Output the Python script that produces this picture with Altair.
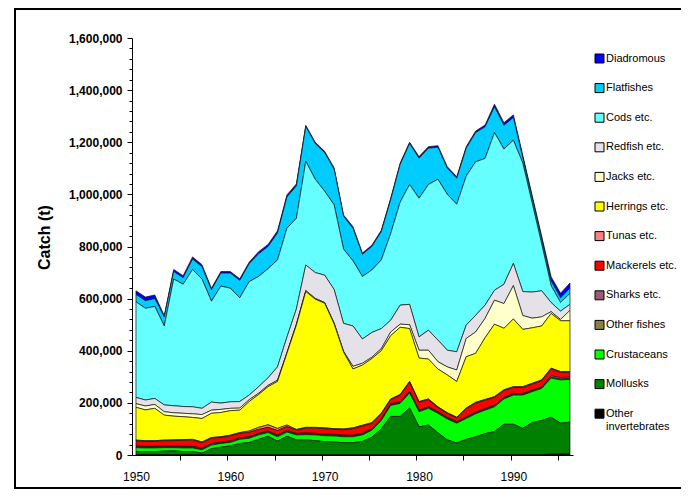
import altair as alt
import pandas as pd

years = list(range(1950, 1997))

series = ["Diadromous", "Flatfishes", "Cods etc.", "Redfish etc.", "Jacks etc.",
          "Herrings etc.", "Tunas etc.", "Mackerels etc.", "Sharks etc.",
          "Other fishes", "Crustaceans", "Mollusks", "Other invertebrates"]

colors = ["#0000FF", "#00CCFF", "#66FFFF", "#E4E1E8", "#FFFFCC",
          "#FFFF00", "#FF8080", "#FF0000", "#9B5B78",
          "#8A8040", "#00FF00", "#008000", "#000000"]

# values in thousand tonnes, 1950..1996
diadromous = [14, 14, 14, 5, 8, 8, 8, 8, 6, 6,
              6, 6, 6, 8, 8, 8, 8, 8, 5, 5,
              5, 5, 5, 6, 5, 5, 5, 5, 5, 5,
              6, 6, 6, 6, 6, 6, 6, 7, 10, 10,
              10, 10, 10, 12, 16, 18, 20]
flatfishes = [28, 29, 30, 35, 29, 25, 40, 47, 44, 50,
              58, 67, 69, 87, 85, 104, 120, 124, 133, 137,
              148, 137, 126, 125, 85, 90, 109, 130, 145, 157,
              154, 139, 123, 100, 100, 107, 112, 121, 99, 91,
              87, 20, 20, 18, 18, 18, 20]
cods = [367, 352, 353, 303, 486, 469, 527, 496, 387, 449,
        436, 398, 435, 423, 419, 410, 418, 348, 398, 358,
        322, 325, 285, 250, 240, 240, 263, 333, 395, 460,
        532, 559, 617, 598, 566, 572, 589, 563, 605, 519,
        473, 493, 340, 180, 65, 33, 42]
redfish = [24, 23, 23, 26, 27, 26, 27, 24, 31, 24,
           25, 25, 18, 25, 29, 51, 59, 58, 98, 99,
           105, 129, 107, 155, 93, 95, 77, 45, 73, 78,
           51, 77, 83, 64, 70, 51, 64, 51, 38, 74,
           85, 92, 100, 100, 35, 32, 23]
jacks = [14, 15, 15, 13, 13, 13, 14, 15, 12, 12,
         9, 8, 7, 5, 5, 5, 3, 4, 4, 3,
         3, 3, 3, 10, 7, 5, 8, 14, 12, 15,
         30, 34, 28, 31, 44, 70, 82, 74, 92, 95,
         128, 53, 37, 35, 7, 5, 40]
herrings = [126, 118, 124, 96, 91, 88, 84, 90, 93, 93,
            94, 86, 113, 126, 146, 180, 275, 400, 521, 492,
            478, 402, 295, 226, 231, 246, 240, 243, 258, 203,
            167, 153, 145, 145, 137, 197, 188, 237, 278, 236,
            260, 220, 213, 207, 210, 195, 195]
tunas = [3, 3, 3, 3, 3, 3, 3, 3, 3, 3,
         3, 3, 5, 8, 10, 8, 6, 3, 3, 3,
         3, 3, 3, 3, 3, 3, 3, 3, 3, 3,
         3, 3, 3, 3, 3, 3, 3, 3, 3, 3,
         3, 3, 3, 3, 3, 3, 3]
mackerels = [20, 19, 19, 20, 21, 23, 24, 21, 20, 17,
             19, 17, 17, 15, 14, 18, 15, 12, 19, 20,
             21, 19, 21, 25, 28, 20, 19, 16, 25, 35,
             30, 27, 16, 15, 14, 31, 35, 32, 30, 26,
             23, 23, 23, 24, 26, 20, 18]
sharks = [3, 3, 3, 3, 3, 3, 3, 3, 3, 3,
          3, 3, 3, 3, 3, 3, 3, 3, 3, 3,
          3, 3, 3, 3, 3, 3, 3, 3, 3, 3,
          3, 3, 3, 3, 3, 3, 3, 3, 3, 3,
          3, 3, 3, 3, 6, 6, 6]
other_fishes = [3, 3, 3, 3, 3, 3, 3, 3, 3, 3,
                3, 3, 3, 3, 3, 3, 3, 3, 3, 3,
                3, 3, 3, 3, 3, 3, 3, 3, 3, 3,
                3, 3, 3, 3, 3, 3, 3, 3, 3, 3,
                3, 3, 3, 3, 3, 3, 3]
crustaceans = [15, 14, 14, 13, 12, 14, 14, 13, 14, 14,
               13, 16, 16, 17, 14, 17, 16, 19, 20, 22,
               23, 23, 23, 23, 25, 27, 32, 42, 50, 58,
               58, 64, 75, 80, 76, 80, 88, 90, 95, 97,
               112, 128, 118, 123, 150, 166, 164]
mollusks = [12, 12, 12, 14, 15, 12, 12, 6, 23, 29,
            34, 43, 47, 59, 71, 52, 71, 57, 57, 54,
            50, 49, 46, 46, 51, 67, 99, 147, 147, 179,
            107, 114, 84, 57, 45, 59, 69, 81, 89, 117,
            117, 101, 124, 131, 141, 118, 122]
other_invertebrates = [1, 1, 1, 1, 1, 1, 1, 1, 1, 1,
                       1, 1, 1, 1, 1, 1, 1, 1, 1, 1,
                       1, 1, 1, 1, 1, 1, 1, 1, 1, 1,
                       1, 1, 1, 1, 1, 1, 1, 1, 1, 1,
                       1, 1, 1, 1, 4, 4, 4]

values = [diadromous, flatfishes, cods, redfish, jacks, herrings, tunas,
          mackerels, sharks, other_fishes, crustaceans, mollusks, other_invertebrates]

rows = []
n = len(series)
for i, (name, vals) in enumerate(zip(series, values)):
    for yr, v in zip(years, vals):
        rows.append({"year": yr, "group": name, "catch": v * 1000, "order": n - 1 - i})
df = pd.DataFrame(rows)

decades = [1950, 1960, 1970, 1980, 1990]
xticks = [1954.7, 1959.7, 1964.7, 1969.7, 1974.7, 1979.7, 1984.7, 1989.7, 1994.7]
xvals = sorted(decades + xticks)
yvals = list(range(0, 1600001, 40000))

FONT = "Liberation Sans"

areas = alt.Chart(df).mark_area(stroke="#111111", strokeWidth=0.7, interpolate="linear").encode(
    x=alt.X("year:Q",
            scale=alt.Scale(domain=[1949.58, 1996.32], nice=False, zero=False),
            axis=alt.Axis(values=xvals, format="d",
                          labelExpr="datum.value % 10 === 0 ? datum.label : ''",
                          tickSize={"condition": {"test": "datum.value % 10 === 0", "value": 0}, "value": 5},
                          labelPadding=16, labelOverlap=False, labelFlush=False,
                          labelFont=FONT, labelFontSize=12, labelColor="black",
                          domainColor="black", tickColor="black", grid=False),
            title=None),
    y=alt.Y("catch:Q", stack="zero",
            scale=alt.Scale(domain=[0, 1600000], nice=False),
            axis=alt.Axis(values=yvals, format=",d",
                          labelExpr="datum.value % 200000 === 0 ? datum.label : ''",
                          tickSize={"condition": {"test": "datum.value % 200000 === 0", "value": 5}, "value": 3},
                          labelPadding=5, labelOverlap=False, labelFlush=False,
                          labelFont=FONT, labelFontSize=12, labelFontWeight="bold", labelColor="black",
                          domainColor="black", tickColor="black", grid=False,
                          titleFont=FONT, titleFontSize=16, titleFontWeight="bold", titleColor="black",
                          titleX=-88, titleY=199, titleAngle=-90, titleAlign="center",
                          titleBaseline="middle"),
            title="Catch (t)"),
    color=alt.Color("group:N",
                    scale=alt.Scale(domain=series, range=colors),
                    legend=alt.Legend(orient="none", legendX=462, legendY=15, title=None,
                                      symbolType="square", symbolSize=81,
                                      symbolStrokeColor="black", symbolStrokeWidth=1,
                                      symbolOpacity=1,
                                      labelFont=FONT, labelFontSize=11, labelColor="black",
                                      labelOffset=1, rowPadding=16.6,
                                      labelExpr="datum.label === 'Other invertebrates' ? ['Other', 'invertebrates'] : datum.label")),
    order=alt.Order("order:Q", sort="ascending"),
)

frame = alt.Chart(pd.DataFrame({"k": [0]})).mark_rect(
    fillOpacity=0, stroke="black", strokeWidth=2
).encode(
    x=alt.value(-117), x2=alt.value(600), y=alt.value(-29), y2=alt.value(450)
)

chart = alt.layer(frame, areas).properties(
    width=441, height=417,
    autosize=alt.AutoSizeParams(type="none"),
    padding={"left": 124, "top": 30, "right": 108, "bottom": 35},
).configure_view(stroke="transparent")

chart.save("out.html", embed_options={"renderer": "svg", "actions": False})
